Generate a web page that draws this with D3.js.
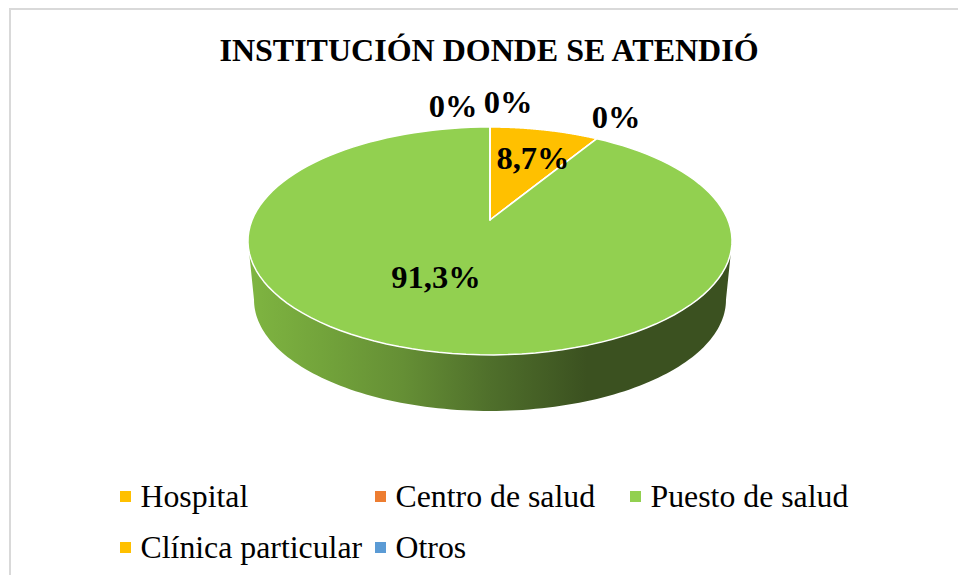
<!DOCTYPE html>
<html><head><meta charset="utf-8">
<script src="https://cdnjs.cloudflare.com/ajax/libs/d3/7.8.5/d3.min.js"></script>
<style>html,body{margin:0;padding:0;background:#fff}svg{display:block}text{font-family:"Liberation Serif",serif;fill:#000}</style>
</head><body><svg id="c" width="958" height="575"></svg>
<script>
const title = "INSTITUCIÓN DONDE SE ATENDIÓ";
const categories = ["Hospital","Centro de salud","Puesto de salud","Clínica particular","Otros"];
const values = [8.7,0,91.3,0,0];
const labels = ["8,7%","0%","91,3%","0%","0%"];
const colors = ["#FFC000","#ED7D31","#92D050","#FFC000","#5B9BD5"];

// layout (separate from the data)
const labelAt = [[533,169],[616,128],[436,288],[453,117],[508,113]];
const legendCols = [120,375,630], legendRows = [491,542];
const svg = d3.select("#c");
const W = 958;

// perspective projection of the disc: a circle seen at an angle
const k = 0.184, A = 237.9, B = 110.1, cx = 490, apexTop = 220;
const depthScale = 0.975, apexBottom = 279.4;
function project(theta, level, r = 1) {
  const u = Math.sin(theta) * r, v = Math.cos(theta) * r, w = 1 + k * v;
  const s = level ? depthScale : 1, ay = level ? apexBottom : apexTop;
  return [cx + s * A * u / w, ay - s * B * v / w];
}
const slices = d3.pie().sort(null).value(d => d)(values);
const line = d3.line();
const sweep = (a0, a1, level) => d3.range(0, 121).map(i => project(a0 + (a1 - a0) * i / 120, level));

// gradient on the visible rim
const defs = svg.append("defs");
const grad = defs.append("linearGradient").attr("id","rim").attr("gradientUnits","userSpaceOnUse")
  .attr("x1",248).attr("x2",732).attr("y1",0).attr("y2",0);
[[0,"#7FB541"],[0.15,"#73A43B"],[0.32,"#658F35"],[0.5,"#4F6F2B"],[0.7,"#3B5120"],[1,"#3B5120"]]
  .forEach(s => grad.append("stop").attr("offset",s[0]).attr("stop-color",s[1]));

// frame
svg.append("path").attr("d",`M10,${575}V9H${W}`).attr("fill","none").attr("stroke","#D9D9D9").attr("stroke-width",2);

// title
svg.append("text").attr("x",489).attr("y",61).attr("text-anchor","middle")
  .attr("font-weight","bold").attr("font-size",32).text(title);

// rim: from the silhouette point on one side, round the front, to the other
const silhouetteR = Math.acos(-k), silhouetteL = 2 * Math.PI - silhouetteR;
svg.append("path")
  .attr("d", line(sweep(silhouetteR, silhouetteL, 0).concat(sweep(silhouetteL, silhouetteR, 1))) + "Z")
  .attr("fill","url(#rim)");

// top face
svg.append("g").selectAll("path").data(slices).join("path")
  .attr("d", d => line([project(0,0,0)].concat(sweep(d.startAngle, d.endAngle, 0))) + "Z")
  .attr("fill", (d,i) => colors[i])
  .attr("stroke","#fff").attr("stroke-width",1.5).attr("stroke-linejoin","round");

// data labels
svg.append("g").selectAll("text").data(labels).join("text")
  .attr("x",(d,i)=>labelAt[i][0]).attr("y",(d,i)=>labelAt[i][1])
  .attr("text-anchor","middle").attr("font-weight","bold").attr("font-size",32.5).text(d=>d);

// legend
const item = svg.append("g").selectAll("g").data(categories).join("g")
  .attr("transform",(d,i)=>`translate(${legendCols[i%3]},${legendRows[Math.floor(i/3)]})`);
item.append("rect").attr("width",11).attr("height",11).attr("fill",(d,i)=>colors[i]);
item.append("text").attr("x",20.5).attr("y",16).attr("font-size",31.8).text(d=>d);
</script></body></html>
